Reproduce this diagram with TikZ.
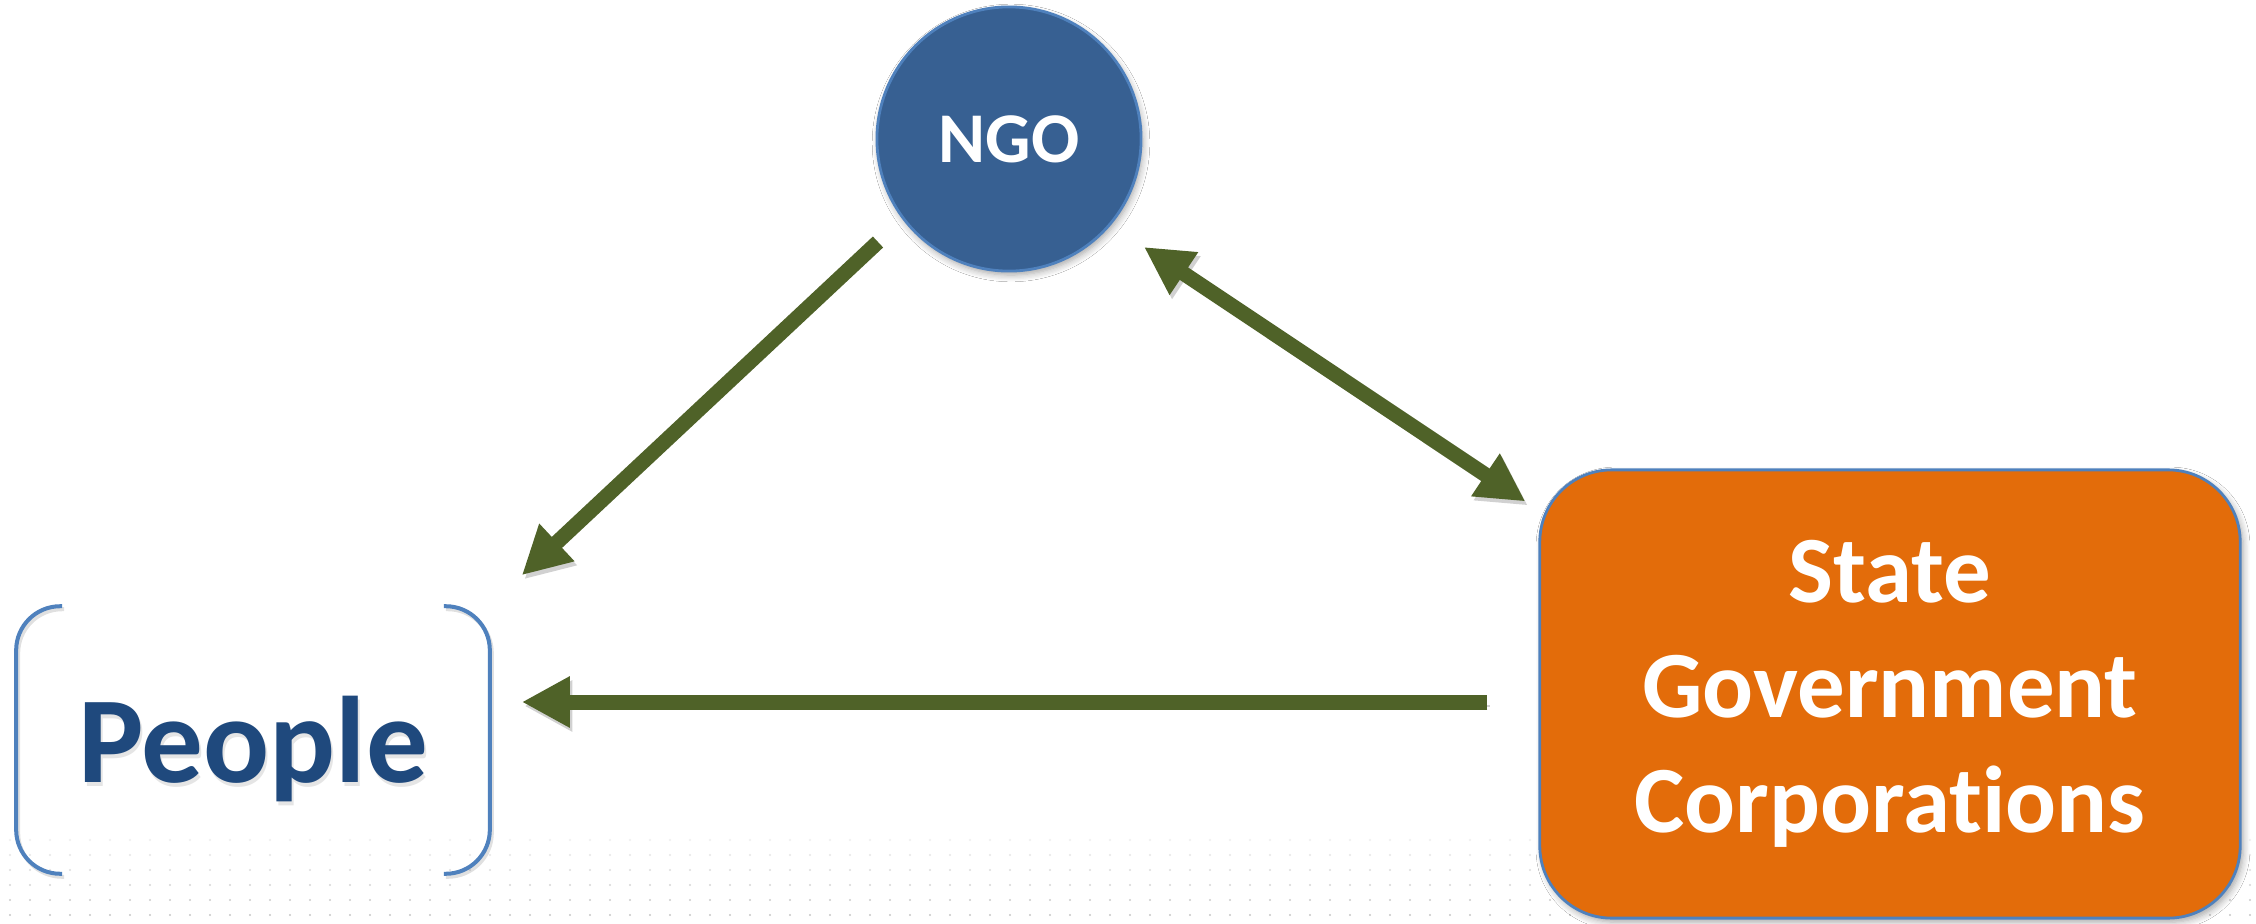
\documentclass[tikz,border=0pt]{standalone}
\usepackage{fontspec}
\setmainfont{Carlito}[Ligatures=NoCommon]
\usetikzlibrary{arrows.meta,shadows.blur}
\definecolor{ngoblue}{RGB}{55,96,146}
\definecolor{edgeblue}{RGB}{79,129,189}
\definecolor{peopleblue}{RGB}{31,73,125}
\definecolor{stateorange}{RGB}{227,108,10}
\definecolor{arrowgreen}{RGB}{79,98,40}
\tikzset{
  ngonode/.style={circle, fill=ngoblue, draw=edgeblue, line width=0.8pt,
    minimum size=2.64cm, inner sep=0pt, text=white,
    font=\fontsize{20.3pt}{24pt}\selectfont\bfseries,
    blur shadow={shadow xshift=0.02cm, shadow yshift=-0.04cm, shadow blur steps=6, shadow opacity=35}},
  statenode/.style={rectangle, rounded corners=0.72cm, fill=stateorange, draw=edgeblue,
    line width=0.8pt, minimum width=7cm, minimum height=4.48cm, inner sep=0pt,
    text=white, align=center, font=\fontsize{27pt}{32.7pt}\selectfont\bfseries,
    blur shadow={shadow xshift=0.03cm, shadow yshift=-0.04cm, shadow blur steps=6, shadow opacity=35}},
  peoplenode/.style={rectangle, minimum width=4.72cm, minimum height=2.66cm, inner sep=0pt,
    text height=1.04cm, text depth=0.2cm, text=peopleblue,
    font=\fontsize{35pt}{40pt}\selectfont\bfseries},
  bracketline/.style={draw=edgeblue, line width=0.04cm, rounded corners=0.44cm},
  arr/.style={draw=arrowgreen, line width=0.15cm,
    -{Triangle[length=0.48cm,width=0.48cm]},
    preaction={draw=black, opacity=0.18, transform canvas={shift={(0.025cm,-0.04cm)}}}},
  darr/.style={arr, {Triangle[length=0.48cm,width=0.48cm]}-{Triangle[length=0.48cm,width=0.48cm]}}
}
\begin{document}
\begin{tikzpicture}[x=0.01cm,y=-0.01cm]
\fill[white] (0,0) rectangle (2256,924);
\useasboundingbox (0,0) rectangle (2256,924);
% dotted background strip
\foreach \r/\op in {0/0.3,1/0.45,2/0.6,3/0.75,4/0.9,5/1} {
  \foreach \c in {0,...,112} {
    \fill[black!22, opacity=\op] (10+20*\c, 840+15*\r) circle (0.012cm);
  }
}
% nodes
\node[ngonode] (ngo) at (1009,139) {NGO};
\node[statenode] (state) at (1890,694) {State\\Government\\Corporations};
\node[peoplenode] (people) at (253,740) {};
% people text with soft shadow
\node[peoplenode, text=black, opacity=0.1] at ([shift={(2,4)}]people.center) {People};
\node[peoplenode] (peopletext) at (people.center) {People};
% brackets
\draw[bracketline, draw=black, opacity=0.12, transform canvas={shift={(0.02cm,-0.03cm)}}]
  ([xshift=0.46cm]people.north west) -- (people.north west) -- (people.south west) -- ([xshift=0.46cm]people.south west);
\draw[bracketline, draw=black, opacity=0.12, transform canvas={shift={(0.02cm,-0.03cm)}}]
  ([xshift=-0.46cm]people.north east) -- (people.north east) -- (people.south east) -- ([xshift=-0.46cm]people.south east);
\draw[bracketline]
  ([xshift=0.46cm]people.north west) -- (people.north west) -- (people.south west) -- ([xshift=0.46cm]people.south west);
\draw[bracketline]
  ([xshift=-0.46cm]people.north east) -- (people.north east) -- (people.south east) -- ([xshift=-0.46cm]people.south east);
% connectors
\draw[arr] ([shift={(-131,103)}]ngo.center) -- ([shift={(32,-31)}]people.north east);
\draw[darr] ([shift={(135,108)}]ngo.center) -- ([shift={(-13,33)}]state.north west);
\draw[arr] ([shift={(-51,8)}]state.west) -- ([shift={(32,-38)}]people.east);
\end{tikzpicture}
\end{document}
